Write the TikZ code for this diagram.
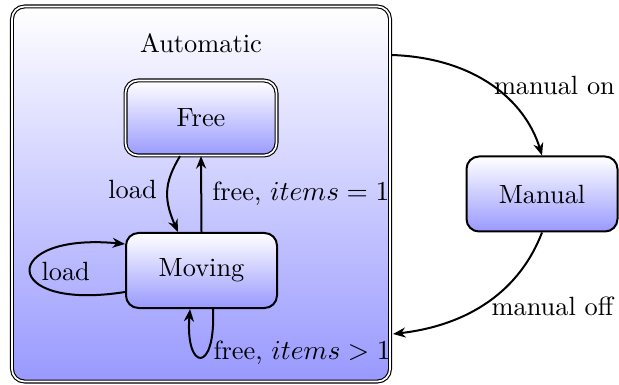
\documentclass[tikz,border=0pt]{standalone}
\usetikzlibrary{arrows.meta}
\begin{document}
\begin{tikzpicture}[x=0.4pt, y=-0.4pt,
  font=\fontsize{10.55pt}{12.6pt}\selectfont,
  statebox/.style={rectangle, rounded corners=5pt, draw, thick,
    top color=white, bottom color=blue!40,
    minimum width=60.4pt, minimum height=30pt, inner sep=0pt},
  twobox/.style={statebox, double, double distance=0.7pt, line width=0.45pt},
  trans/.style={thick, -{Stealth[length=5pt, width=4pt, inset=1.6pt]}},
  lbl/.style={inner sep=4pt}]
\useasboundingbox (0,0) rectangle (619,385);

% superstate and its title
\node[twobox, minimum width=151.2pt, minimum height=150pt] (auto) at (201,194) {};
\node (autotitle) at ([yshift=-15pt]auto.north) {Automatic};

% states
\node[twobox] (free) at (201,118) {Free};
\node[statebox] (moving) at (201.5,270.5) {Moving};
\node[statebox] (manual) at (542,194) {Manual};

% attachment points on the superstate border
\coordinate (mon) at (392,55);
\coordinate (moff) at (393,334);

% transitions inside Automatic
\draw[trans] ([xshift=-8.4pt]free.south)
  .. controls +(-14,24) and +(-16,-36) .. node[midway, anchor=east, lbl] {load}
  ([xshift=-9.4pt]moving.north);
\draw[trans] (moving.north) -- node[midway, anchor=west, lbl] {free, $items = 1$} (free.south);
\draw[trans] ([yshift=-8.6pt]moving.west)
  .. controls +(-126,20) and +(-126,-12) .. node[pos=0.5, anchor=west, inner sep=4pt] {load}
  ([yshift=10.6pt]moving.west);
\draw[trans] ([xshift=4.6pt]moving.south)
  .. controls +(3,66) and +(-5,62) ..
  ([xshift=-4.6pt]moving.south);
\node[anchor=west, inner sep=1pt] (bigload) at ([xshift=3.6pt, yshift=-17.6pt]moving.south) {free, $items > 1$};

% manual mode switching
\draw[trans] (mon) .. controls (475,58) and (525,100) ..
  node[midway, anchor=west, inner sep=0.5pt] {manual on} (manual.north);
\draw[trans] (manual.south) .. controls (520,290) and (470,325) ..
  node[midway, anchor=west, inner sep=1pt, yshift=-2pt] {manual off} (moff);
\end{tikzpicture}
\end{document}
